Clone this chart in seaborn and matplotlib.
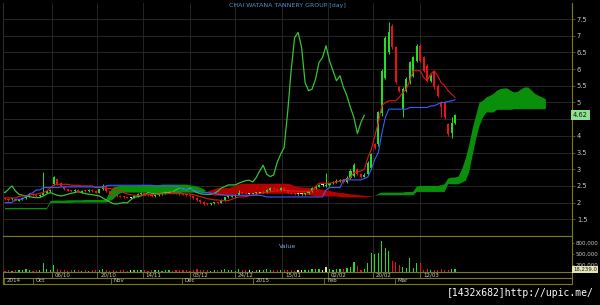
import numpy as np
import matplotlib
matplotlib.use("Agg")
import matplotlib.pyplot as plt
import seaborn as sns

# ---------------- data ----------------
title = "CHAI WATANA TANNERY GROUP [day]"

open_ = [2.14, 2.12, 2.10, 2.10, 2.06, 2.10, 2.14, 2.20, 2.26, 2.22,
         2.20, 2.24, 2.30, 2.34, 2.56, 2.70, 2.60, 2.48, 2.40, 2.36,
         2.34, 2.38, 2.32, 2.36, 2.34, 2.38, 2.35, 2.30, 2.40, 2.50,
         2.35, 2.25, 2.22, 2.20, 2.18, 2.16, 2.15, 2.15, 2.20, 2.26,
         2.30, 2.26, 2.22, 2.20, 2.22, 2.25, 2.28, 2.30, 2.33, 2.30,
         2.27, 2.25, 2.24, 2.22, 2.20, 2.14, 2.08, 2.02, 1.97, 1.96,
         1.98, 2.00, 1.99, 2.08, 2.16, 2.18, 2.20, 2.24, 2.30, 2.28,
         2.27, 2.27, 2.28, 2.30, 2.30, 2.32, 2.38, 2.44, 2.42, 2.38,
         2.44, 2.36, 2.30, 2.27, 2.25, 2.25, 2.25, 2.28, 2.34, 2.44,
         2.48, 2.53, 2.50, 2.53, 2.58, 2.62, 2.66, 2.67, 2.62, 2.75,
         2.80, 3.00, 2.85, 2.78, 2.85, 3.05, 3.75, 3.75, 4.67, 5.74,
         6.50, 7.30, 6.65, 5.45, 4.80, 5.35, 5.60, 5.80, 6.25, 6.70,
         6.35, 6.10, 5.65, 5.90, 5.50, 5.00, 5.00, 4.37, 4.10, 4.40]
high = [2.16, 2.14, 2.14, 2.12, 2.12, 2.16, 2.22, 2.30, 2.28, 2.24,
        2.26, 2.92, 2.36, 2.40, 2.80, 2.72, 2.62, 2.50, 2.42, 2.38,
        2.40, 2.40, 2.38, 2.38, 2.40, 2.40, 2.38, 2.42, 2.56, 2.52,
        2.36, 2.27, 2.24, 2.22, 2.20, 2.18, 2.18, 2.22, 2.28, 2.32,
        2.32, 2.28, 2.24, 2.24, 2.27, 2.30, 2.34, 2.36, 2.36, 2.31,
        2.29, 2.27, 2.26, 2.24, 2.21, 2.16, 2.10, 2.04, 2.00, 2.00,
        2.02, 2.02, 2.10, 2.18, 2.20, 2.22, 2.26, 2.38, 2.32, 2.30,
        2.29, 2.30, 2.32, 2.32, 2.34, 2.40, 2.46, 2.46, 2.44, 2.46,
        2.46, 2.38, 2.32, 2.29, 2.27, 2.27, 2.30, 2.36, 2.46, 2.52,
        2.55, 2.56, 2.90, 2.60, 2.64, 2.70, 2.72, 2.68, 2.80, 3.00,
        3.20, 3.05, 2.88, 2.90, 3.25, 3.50, 3.80, 4.75, 6.00, 7.00,
        7.40, 7.35, 6.70, 5.50, 5.45, 5.75, 6.25, 6.40, 6.75, 6.75,
        6.40, 6.15, 5.85, 5.95, 5.55, 5.05, 5.05, 4.40, 4.55, 4.65]
low = [2.08, 2.06, 2.08, 2.04, 2.04, 2.08, 2.12, 2.18, 2.20, 2.18,
       2.18, 2.22, 2.28, 2.32, 2.54, 2.54, 2.48, 2.38, 2.34, 2.32,
       2.32, 2.30, 2.30, 2.32, 2.32, 2.33, 2.28, 2.28, 2.38, 2.33,
       2.23, 2.20, 2.18, 2.16, 2.14, 2.13, 2.13, 2.14, 2.18, 2.24,
       2.24, 2.20, 2.18, 2.18, 2.20, 2.23, 2.26, 2.28, 2.28, 2.25,
       2.23, 2.22, 2.20, 2.18, 2.12, 2.06, 2.00, 1.94, 1.92, 1.94,
       1.96, 1.96, 1.98, 2.06, 2.14, 2.16, 2.18, 2.22, 2.26, 2.25,
       2.25, 2.25, 2.26, 2.28, 2.28, 2.30, 2.36, 2.40, 2.36, 2.36,
       2.34, 2.28, 2.25, 2.23, 2.23, 2.23, 2.23, 2.26, 2.32, 2.42,
       2.46, 2.50, 2.48, 2.50, 2.56, 2.60, 2.62, 2.58, 2.60, 2.72,
       2.78, 2.82, 2.74, 2.76, 2.82, 3.00, 3.60, 3.70, 4.60, 5.70,
       6.45, 6.60, 5.55, 5.30, 4.55, 5.30, 5.55, 5.75, 6.20, 6.20,
       5.90, 5.60, 5.60, 5.40, 5.15, 4.55, 4.50, 4.00, 3.95, 4.35]
close = [2.10, 2.08, 2.12, 2.06, 2.10, 2.14, 2.20, 2.26, 2.22, 2.20,
         2.24, 2.30, 2.34, 2.36, 2.78, 2.56, 2.50, 2.40, 2.36, 2.34,
         2.38, 2.32, 2.36, 2.34, 2.38, 2.35, 2.30, 2.40, 2.50, 2.35,
         2.25, 2.22, 2.20, 2.18, 2.16, 2.15, 2.15, 2.20, 2.26, 2.30,
         2.26, 2.22, 2.20, 2.22, 2.25, 2.28, 2.30, 2.33, 2.30, 2.27,
         2.25, 2.24, 2.22, 2.20, 2.14, 2.08, 2.02, 1.97, 1.96, 1.98,
         2.00, 1.99, 2.08, 2.16, 2.18, 2.20, 2.24, 2.30, 2.28, 2.27,
         2.27, 2.28, 2.30, 2.30, 2.32, 2.38, 2.44, 2.42, 2.38, 2.44,
         2.36, 2.30, 2.27, 2.25, 2.25, 2.25, 2.28, 2.34, 2.44, 2.48,
         2.53, 2.53, 2.53, 2.58, 2.62, 2.66, 2.67, 2.62, 2.75, 2.95,
         3.12, 2.85, 2.78, 2.83, 3.20, 3.45, 3.65, 4.70, 5.95, 6.94,
         7.10, 6.65, 5.60, 5.35, 5.40, 5.70, 6.20, 6.35, 6.70, 6.25,
         5.95, 5.65, 5.80, 5.45, 5.20, 4.85, 4.55, 4.07, 4.40, 4.62]
volume = [40e3, 55e3, 35e3, 60e3, 45e3, 50e3, 70e3, 65e3, 40e3, 50e3,
          60e3, 255e3, 70e3, 50e3, 195e3, 90e3, 60e3, 45e3, 40e3, 50e3,
          45e3, 50e3, 40e3, 55e3, 35e3, 45e3, 60e3, 50e3, 70e3, 45e3,
          40e3, 50e3, 35e3, 45e3, 55e3, 40e3, 60e3, 50e3, 45e3, 55e3,
          50e3, 40e3, 45e3, 60e3, 50e3, 35e3, 45e3, 55e3, 40e3, 50e3,
          45e3, 60e3, 50e3, 40e3, 55e3, 70e3, 60e3, 50e3, 45e3, 40e3,
          55e3, 45e3, 60e3, 70e3, 50e3, 45e3, 40e3, 75e3, 50e3, 45e3,
          50e3, 40e3, 45e3, 55e3, 60e3, 70e3, 65e3, 50e3, 45e3, 55e3,
          60e3, 50e3, 45e3, 40e3, 55e3, 50e3, 45e3, 60e3, 75e3, 90e3,
          70e3, 60e3, 145e3, 80e3, 60e3, 70e3, 90e3, 75e3, 110e3, 130e3,
          270e3, 170e3, 60e3, 80e3, 250e3, 520e3, 500e3, 520e3, 850e3, 650e3,
          580e3, 300e3, 280e3, 190e3, 150e3, 100e3, 380e3, 120e3, 250e3, 250e3,
          60e3, 70e3, 50e3, 60e3, 55e3, 70e3, 60e3, 50e3, 90e3, 80e3]
tenkan = [2.14, 2.14, 2.14, 2.14, 2.18, 2.20, 2.20, 2.22, 2.25, 2.25,
          2.28, 2.30, 2.35, 2.45, 2.52, 2.55, 2.55, 2.55, 2.55, 2.52,
          2.52, 2.52, 2.50, 2.50, 2.50, 2.50, 2.45, 2.45, 2.45, 2.42,
          2.42, 2.40, 2.38, 2.36, 2.30, 2.26, 2.24, 2.22, 2.22, 2.22,
          2.23, 2.24, 2.24, 2.25, 2.26, 2.26, 2.26, 2.27, 2.27, 2.27,
          2.27, 2.27, 2.26, 2.26, 2.24, 2.21, 2.18, 2.15, 2.12, 2.10,
          2.08, 2.08, 2.06, 2.06, 2.06, 2.10, 2.14, 2.17, 2.17, 2.18,
          2.21, 2.22, 2.24, 2.28, 2.30, 2.31, 2.32, 2.35, 2.35, 2.36,
          2.36, 2.36, 2.35, 2.35, 2.34, 2.34, 2.34, 2.34, 2.35, 2.48,
          2.58, 2.58, 2.58, 2.58, 2.60, 2.62, 2.65, 2.68, 2.70, 2.75,
          2.90, 2.92, 2.95, 3.00, 3.35, 3.60, 4.00, 4.40, 4.90, 5.00,
          5.05, 5.05, 5.05, 5.15, 5.30, 5.40, 5.65, 5.95, 5.95, 5.95,
          5.75, 5.65, 5.85, 5.95, 5.80, 5.60, 5.50, 5.35, 5.25, 5.15]
kijun = [2.00, 2.00, 2.00, 2.10, 2.10, 2.10, 2.20, 2.25, 2.30, 2.38,
         2.38, 2.45, 2.45, 2.45, 2.45, 2.45, 2.47, 2.47, 2.47, 2.47,
         2.47, 2.47, 2.47, 2.47, 2.47, 2.47, 2.47, 2.47, 2.47, 2.50,
         2.52, 2.52, 2.52, 2.52, 2.52, 2.52, 2.52, 2.52, 2.52, 2.52,
         2.52, 2.52, 2.52, 2.50, 2.50, 2.50, 2.50, 2.50, 2.50, 2.50,
         2.45, 2.40, 2.40, 2.40, 2.38, 2.35, 2.32, 2.30, 2.30, 2.28,
         2.27, 2.25, 2.24, 2.22, 2.22, 2.22, 2.22, 2.22, 2.22, 2.22,
         2.22, 2.22, 2.22, 2.22, 2.20, 2.17, 2.17, 2.17, 2.17, 2.17,
         2.17, 2.17, 2.17, 2.17, 2.17, 2.17, 2.17, 2.17, 2.17, 2.17,
         2.17, 2.17, 2.38, 2.45, 2.45, 2.45, 2.45, 2.68, 2.68, 2.68,
         2.68, 2.68, 2.68, 2.72, 2.77, 3.00, 3.30, 3.50, 4.07, 4.55,
         4.80, 4.80, 4.80, 4.80, 4.80, 4.80, 4.85, 4.85, 4.85, 4.85,
         4.85, 4.85, 4.90, 4.90, 4.95, 5.00, 5.00, 5.03, 5.05, 5.08]
span_a = [1.84, 1.84, 1.84, 1.84, 1.84, 1.84, 1.84, 1.84, 1.84, 1.84,
          1.84, 1.84, 1.84, 2.04, 2.06, 2.06, 2.06, 2.06, 2.07, 2.07,
          2.07, 2.07, 2.07, 2.08, 2.08, 2.08, 2.08, 2.08, 2.08, 2.10,
          2.30, 2.45, 2.48, 2.50, 2.50, 2.50, 2.50, 2.50, 2.50, 2.52,
          2.52, 2.52, 2.52, 2.52, 2.52, 2.54, 2.54, 2.54, 2.54, 2.54,
          2.54, 2.54, 2.54, 2.52, 2.50, 2.48, 2.45, 2.40, 2.32, 2.26,
          2.22, 2.22, 2.22, 2.22, 2.22, 2.24, 2.26, 2.28, 2.28, 2.28,
          2.28, 2.28, 2.28, 2.28, 2.28, 2.28, 2.28, 2.28, 2.28, 2.28,
          2.28, 2.28, 2.28, 2.28, 2.28, 2.26, 2.25, 2.24, 2.22, 2.20,
          2.20, 2.20, 2.20, 2.20, 2.20, 2.20, 2.18, 2.17, 2.17, 2.17,
          2.17, 2.17, 2.17, 2.17, 2.18, 2.19, 2.20, 2.26, 2.30, 2.30,
          2.30, 2.30, 2.30, 2.30, 2.30, 2.32, 2.32, 2.32, 2.48, 2.50,
          2.50, 2.50, 2.50, 2.50, 2.50, 2.52, 2.55, 2.72, 2.75, 2.75,
          2.78, 3.00, 3.30, 3.70, 4.20, 4.60, 5.00, 5.05, 5.15, 5.20,
          5.25, 5.35, 5.40, 5.42, 5.42, 5.35, 5.30, 5.32, 5.40, 5.45,
          5.45, 5.35, 5.25, 5.20, 5.15, 5.10]
span_b = [1.80, 1.80, 1.80, 1.80, 1.80, 1.80, 1.80, 1.80, 1.80, 1.80,
          1.80, 1.80, 1.80, 1.98, 1.99, 1.99, 1.99, 1.99, 1.99, 1.99,
          2.00, 2.00, 2.00, 2.00, 2.00, 2.00, 2.00, 2.00, 2.00, 2.00,
          2.05, 2.10, 2.20, 2.28, 2.30, 2.30, 2.30, 2.30, 2.30, 2.30,
          2.30, 2.30, 2.30, 2.28, 2.28, 2.28, 2.28, 2.28, 2.28, 2.28,
          2.28, 2.30, 2.30, 2.30, 2.30, 2.30, 2.30, 2.32, 2.35, 2.38,
          2.42, 2.45, 2.45, 2.45, 2.45, 2.48, 2.52, 2.56, 2.58, 2.58,
          2.58, 2.58, 2.58, 2.58, 2.58, 2.58, 2.58, 2.58, 2.58, 2.58,
          2.58, 2.58, 2.55, 2.50, 2.48, 2.47, 2.46, 2.45, 2.45, 2.45,
          2.42, 2.40, 2.38, 2.36, 2.34, 2.32, 2.30, 2.30, 2.28, 2.26,
          2.25, 2.24, 2.23, 2.22, 2.21, 2.20, 2.20, 2.22, 2.22, 2.22,
          2.22, 2.22, 2.22, 2.22, 2.22, 2.22, 2.22, 2.22, 2.32, 2.32,
          2.32, 2.32, 2.32, 2.32, 2.32, 2.32, 2.32, 2.55, 2.55, 2.55,
          2.55, 2.60, 2.65, 2.90, 3.40, 3.90, 4.30, 4.55, 4.70, 4.70,
          4.70, 4.78, 4.78, 4.78, 4.78, 4.78, 4.80, 4.80, 4.80, 4.80,
          4.80, 4.80, 4.80, 4.80, 4.80, 4.80]

price_ticks = [1.5, 2, 2.5, 3, 3.5, 4, 4.5, 5, 5.5, 6, 6.5, 7, 7.5]
volume_ticks = [200000, 500000, 800000]
day_labels = ["06/10", "20/10", "14/11", "03/12", "24/12", "15/01", "02/02", "20/02", "12/03"]
day_label_bars = [13.5, 26.5, 39.5, 53, 66, 79.5, 92.5, 105.5, 119]
month_labels = ["2014", "Oct", "Nov", "Dec", "2015", "Feb", "Mar"]
month_label_bars = [-0.3, 8, 30.4, 50.7, 71.1, 91.5, 111.8]
last_volume_label = "18,239.0"
lag = 26
watermark = "[1432x682]http://upic.me/"

# ---------------- styling ----------------
sns.set_style("dark")
plt.rcParams["font.family"] = ["DejaVu Sans"]

BG = "black"
OLIVE = "#7a7a26"
GRID = "#262626"
TXT = "#c8c8c8"
UP = "#22dd22"
DOWN = "#ee1111"
FLAT = "#e6e68a"

W, H = 600, 305


def rect(l, t, r, b):
    return [l / W, 1 - b / H, (r - l) / W, (b - t) / H]


fig = plt.figure(figsize=(6, 3.05), dpi=100, facecolor=BG)
ax = fig.add_axes(rect(3, 3, 572, 236))
axv = fig.add_axes(rect(3, 236, 572, 272), sharex=ax)

n = len(close)
x = np.arange(n)
xc = np.arange(len(span_a))
o = np.array(open_); c = np.array(close); h = np.array(high); l = np.array(low)
sa = np.array(span_a); sb = np.array(span_b)

for a in (ax, axv):
    a.set_facecolor(BG)
    a.grid(False)
    for b in day_label_bars:
        a.axvline(b, color=GRID, lw=0.7, zorder=0)

ax.set_xlim(-0.57, 162.5)
ax.set_ylim(1.0, 7.98)
for t in price_ticks:
    ax.axhline(t, color=GRID, lw=0.7, zorder=0)

# cloud
ax.fill_between(xc, sa, sb, where=sa >= sb, interpolate=True, color="#0a8f0a", lw=0, zorder=1)
ax.fill_between(xc, sa, sb, where=sa < sb, interpolate=True, color="#b30000", lw=0, zorder=1)

# candles
body_col = np.where(c > o, UP, np.where(c < o, DOWN, FLAT))
ax.vlines(x, l, h, colors=body_col, lw=0.7, zorder=3)
bottoms = np.minimum(o, c)
heights = np.maximum(np.abs(c - o), 0.025)
ax.bar(x, heights, bottom=bottoms, width=0.62, color=body_col, lw=0, zorder=3)

# ichimoku lines
sns.lineplot(x=x - lag, y=c, ax=ax, color="#35c435", lw=0.9, zorder=2, legend=False)
sns.lineplot(x=x, y=tenkan, ax=ax, color="#e01818", lw=0.8, zorder=4, legend=False)
sns.lineplot(x=x, y=kijun, ax=ax, color="#3a5cff", lw=0.8, zorder=4, legend=False)

# volume
prev = np.concatenate([[o[0]], c[:-1]])
vol_col = np.where(c > prev, UP, np.where(c < prev, DOWN, FLAT))
axv.bar(x, volume, width=0.35, color=vol_col, lw=0, zorder=2)
axv.set_ylim(0, 993000)

# axes decorations
for a in (ax, axv):
    a.set_xlabel(""); a.set_ylabel("")
    a.tick_params(axis="x", bottom=False, labelbottom=False, top=False)
    a.yaxis.tick_right()
    a.tick_params(axis="y", right=True, left=False, labelright=True, labelleft=False,
                  color=OLIVE, labelcolor=TXT, labelsize=4.8, length=2, width=0.5, pad=1.5)
    a.spines["left"].set_color("#303030"); a.spines["left"].set_linewidth(0.7)
    a.spines["right"].set_color(OLIVE); a.spines["right"].set_linewidth(0.8)
    a.spines["bottom"].set_color(OLIVE); a.spines["bottom"].set_linewidth(0.8)
    a.spines["top"].set_color(OLIVE); a.spines["top"].set_linewidth(0.8)
ax.spines["top"].set_visible(False)
axv.tick_params(axis="y", labelsize=4.0, pad=1.0, length=1.5)

ax.set_yticks(price_ticks)
ax.set_yticklabels(["" if t == 4.5 else f"{t:g}" for t in price_ticks])
axv.set_yticks(volume_ticks)
axv.set_yticklabels([f"{v:,.0f}" for v in volume_ticks])

# last price / volume boxes
ax.text(1.002, c[-1], f"{c[-1]:.2f}", transform=ax.get_yaxis_transform(), ha="left", va="center",
        fontsize=4.8, color="#102010", zorder=10, clip_on=False,
        bbox=dict(boxstyle="square,pad=0.25", fc="#8fe08f", ec="none"))
axv.text(1.002, 0.07, last_volume_label, transform=axv.transAxes, ha="left", va="center",
         fontsize=3.9, color="#202010", zorder=10, clip_on=False,
         bbox=dict(boxstyle="square,pad=0.15", fc="#e4e4b8", ec="none"))

# titles
fig.text(287 / W, 1 - 6 / H, title, color="#4f8fcf", fontsize=4.5, ha="center", va="center")
axv.text(0.5, 0.72, "Value", transform=axv.transAxes, color="#7fa8d8", fontsize=4.5,
         ha="center", va="center")

# date rows below the volume panel
tr = axv.get_xaxis_transform()
r1_top, r1_bot, r2_bot = 0.0, -6 / 36, -12 / 36
xl = ax.get_xlim()
for yy in (r1_bot, r2_bot):
    axv.plot(xl, [yy, yy], color=OLIVE, lw=0.8, transform=tr, clip_on=False)
for xx in xl:
    axv.plot([xx, xx], [r1_top, r2_bot], color=OLIVE, lw=0.8, transform=tr, clip_on=False)
for b, lab in zip(day_label_bars, day_labels):
    axv.plot([b, b], [r1_top, r1_bot], color=OLIVE, lw=0.6, transform=tr, clip_on=False)
    axv.text(b + 0.8, (r1_top + r1_bot) / 2, lab, transform=tr, color=TXT, fontsize=4.0,
             ha="left", va="center", clip_on=False)
for b, lab in zip(month_label_bars, month_labels):
    axv.plot([b, b], [r1_bot, r2_bot], color=OLIVE, lw=0.6, transform=tr, clip_on=False)
    axv.text(b + 0.8, (r1_bot + r2_bot) / 2, lab, transform=tr, color=TXT, fontsize=4.0,
             ha="left", va="center", clip_on=False)

fig.text(594 / W, 1 - 293 / H, watermark, color="white", fontsize=7.0,
         family="DejaVu Sans Mono", ha="right", va="center")

fig.savefig("out.png", dpi=100, facecolor=BG)
